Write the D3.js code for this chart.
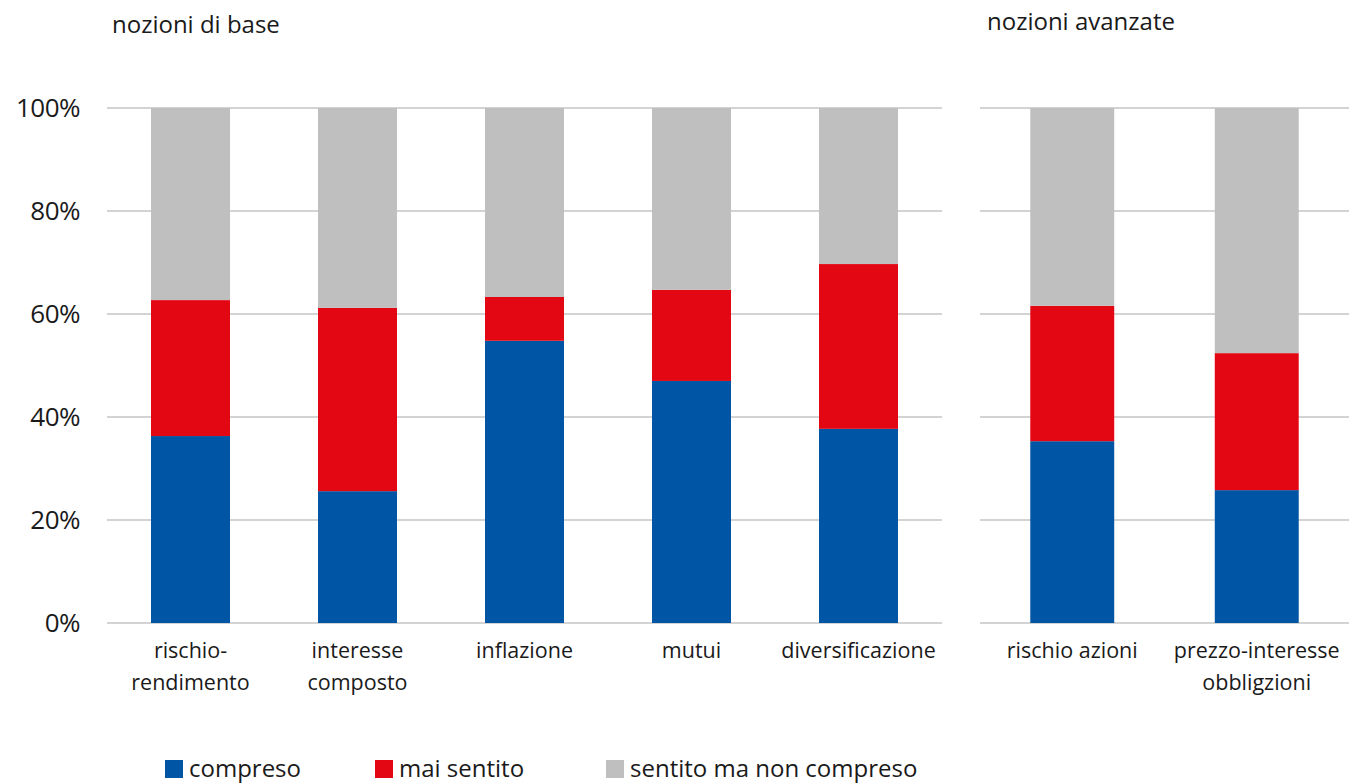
<!DOCTYPE html>
<html><head><meta charset="utf-8">
<script src="https://cdn.jsdelivr.net/npm/d3@7"></script>
<style>body{margin:0;background:#fff}svg{display:block}text{font-family:"Open Sans",sans-serif;fill:#1a1a1a}</style>
</head><body><svg id="c" width="1349" height="784"></svg>
<script>
const baseCategories = [["rischio-","rendimento"],["interesse","composto"],["inflazione"],["mutui"],["diversificazione"]];
const baseCompreso = [36.3, 25.6, 54.8, 47.0, 37.7];
const baseMaiSentito = [26.4, 35.6, 8.5, 17.7, 32.0];
const advCategories = [["rischio azioni"],["prezzo-interesse","obbligzioni"]];
const advCompreso = [35.3, 25.8];
const advMaiSentito = [26.3, 26.6];
const seriesNames = ["compreso","mai sentito","sentito ma non compreso"];
const seriesColors = ["#0055a4","#e30613","#bfbfbf"];
const yTicks = [0,20,40,60,80,100];
const panelTitles = ["nozioni di base","nozioni avanzate"];

const svg = d3.select("#c");
const y = d3.scaleLinear().domain([0,100]).range([623,108]);

function panel(cats, comp, mai, x0, x1, pin, title, tx, ty, showAxis){
  const x = d3.scaleBand().domain(cats.map((c,i)=>i)).range([x0,x1]).paddingInner(pin).paddingOuter(pin/2);
  const g = svg.append("g");
  g.selectAll("line.grid").data(yTicks).join("line")
    .attr("x1",x0).attr("x2",x1).attr("y1",d=>y(d)).attr("y2",d=>y(d))
    .attr("stroke","#c4c4c4").attr("stroke-width",1.6);
  if(showAxis){
    g.selectAll("text.tick").data(yTicks).join("text")
      .attr("x",80).attr("y",d=>y(d)).attr("dy","0.36em").attr("text-anchor","end")
      .attr("font-size",26).attr("letter-spacing",-0.5).text(d=>d+"%");
  }
  const data = cats.map((c,i)=>{
    const a=comp[i], b=mai[i];
    return [[0,a],[a,a+b],[a+b,100]];
  });
  data.forEach((segs,i)=>{
    segs.forEach((s,k)=>{
      g.append("rect").attr("x",x(i)).attr("width",x.bandwidth())
        .attr("y",y(s[1])).attr("height",y(s[0])-y(s[1]))
        .attr("fill",seriesColors[k]);
    });
  });
  cats.forEach((lines,i)=>{
    const t = g.append("text").attr("text-anchor","middle").attr("font-size",21.5)
      .attr("x",x(i)+x.bandwidth()/2).attr("y",658);
    lines.forEach((l,j)=>t.append("tspan").attr("x",x(i)+x.bandwidth()/2).attr("dy",j?32:0).text(l));
  });
  svg.append("text").attr("x",tx).attr("y",ty).attr("font-size",24).text(title);
}
panel(baseCategories, baseCompreso, baseMaiSentito, 107, 942, 0.527, panelTitles[0], 112, 33, true);
panel(advCategories, advCompreso, advMaiSentito, 980, 1349, 0.545, panelTitles[1], 987, 30, false);

const legX = [165, 375, 606];
const lg = svg.append("g");
seriesNames.forEach((n,i)=>{
  lg.append("rect").attr("x",legX[i]).attr("y",760).attr("width",18).attr("height",18).attr("fill",seriesColors[i]);
  lg.append("text").attr("x",legX[i]+24).attr("y",777).attr("font-size",24).text(n);
});
</script></body></html>
